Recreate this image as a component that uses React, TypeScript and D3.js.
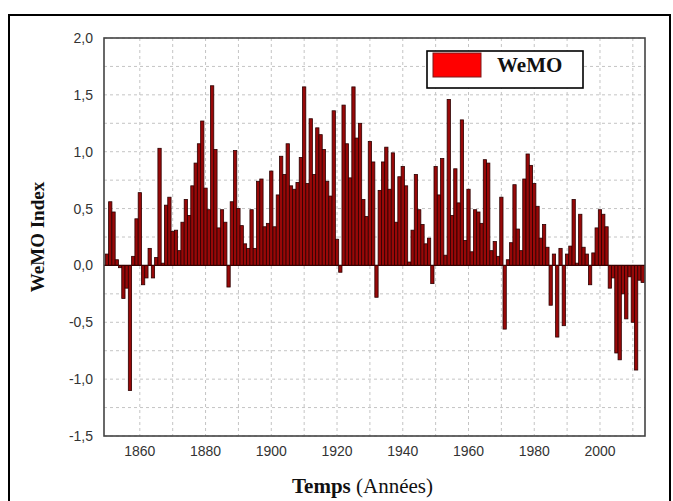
import React from "react";
import * as d3 from "d3";

// Annual WeMO index values, 1850–2013
const startYear = 1850;
const wemo: number[] = [
  // 1850–1859
  0.10, 0.56, 0.47, 0.05, -0.02, -0.29, -0.20, -1.10, 0.08, 0.41,
  // 1860–1869
  0.64, -0.17, -0.11, 0.15, -0.11, 0.07, 1.03, 0.02, 0.53, 0.60,
  // 1870–1879
  0.30, 0.31, 0.13, 0.38, 0.58, 0.44, 0.70, 0.90, 1.07, 1.27,
  // 1880–1889
  0.68, 0.49, 1.58, 1.02, 0.33, 0.49, 0.38, -0.19, 0.56, 1.01,
  // 1890–1899
  0.50, 0.35, 0.19, 0.15, 0.49, 0.15, 0.74, 0.76, 0.34, 0.37,
  // 1900–1909
  0.83, 0.34, 0.62, 0.96, 0.80, 1.07, 0.70, 0.67, 0.73, 0.95,
  // 1910–1919
  1.57, 0.72, 1.29, 0.80, 1.21, 1.15, 1.02, 0.74, 0.61, 1.36,
  // 1920–1929
  0.23, -0.06, 1.41, 1.07, 0.77, 1.57, 1.12, 1.25, 0.58, 0.43,
  // 1930–1939
  1.09, 0.91, -0.28, 0.66, 0.91, 1.04, 0.67, 0.99, 0.38, 0.78,
  // 1940–1949
  0.87, 0.70, 0.03, 0.31, 0.80, 0.49, 0.36, 0.19, 0.24, -0.16,
  // 1950–1959
  0.87, 0.62, 0.94, 0.09, 1.46, 0.44, 0.85, 0.55, 1.28, 0.22,
  // 1960–1969
  0.67, 0.12, 0.49, 0.47, 0.37, 0.93, 0.90, 0.13, 0.21, 0.08,
  // 1970–1979
  0.60, -0.56, 0.05, 0.20, 0.71, 0.32, 0.13, 0.76, 0.98, 0.88,
  // 1980–1989
  0.72, 0.52, 0.24, 0.36, 0.16, -0.35, 0.10, -0.63, 0.15, -0.53,
  // 1990–1999
  0.10, 0.17, 0.58, 0.02, 0.45, 0.16, 0.10, -0.17, 0.11, 0.33,
  // 2000–2009
  0.49, 0.45, 0.34, -0.20, -0.11, -0.77, -0.83, -0.25, -0.47, -0.10,
  // 2010–2013
  -0.50, -0.92, -0.13, -0.15,
];

const yTicks: number[] = [2.0, 1.5, 1.0, 0.5, 0.0, -0.5, -1.0, -1.5];
const xTicks: number[] = [1860, 1880, 1900, 1920, 1940, 1960, 1980, 2000];
const xGrid: number[] = d3.range(1860, 2011, 10);
const yGrid: number[] = d3.range(-1.5, 2.001, 0.25);

const seriesName = "WeMO";

const W = 673;
const H = 501;
const plot = { left: 104, right: 645, top: 38, bottom: 436 };

const fmt = (v: number) => v.toFixed(1).replace(".", ",");

export default function App() {
  const x = d3
    .scaleLinear()
    .domain([1849.1, 2013.7])
    .range([plot.left, plot.right]);
  const y = d3.scaleLinear().domain([-1.5, 2.0]).range([plot.bottom, plot.top]);

  const data = wemo.map((v, i) => ({ year: startYear + i, value: v }));
  const sans = "Arial, 'Liberation Sans', sans-serif";
  const serif = "'Times New Roman', 'Liberation Serif', serif";

  return (
    <svg
      width={W}
      height={H}
      style={{ position: "absolute", left: 0, top: 0, background: "#fff" }}
    >
      {/* outer frame */}
      <rect
        x={9}
        y={15}
        width={661}
        height={500}
        fill="#fff"
        stroke="#000"
        strokeWidth={2}
      />

      {/* plot background */}
      <rect
        x={plot.left}
        y={plot.top}
        width={plot.right - plot.left}
        height={plot.bottom - plot.top}
        fill="#fff"
      />

      {/* grid */}
      <g stroke="#c4c4c4" strokeWidth={1} strokeDasharray="3,3">
        {xGrid.map((g) => (
          <line key={"vx" + g} x1={x(g)} x2={x(g)} y1={plot.top} y2={plot.bottom} />
        ))}
        {yGrid.map((g) => (
          <line key={"hy" + g} x1={plot.left} x2={plot.right} y1={y(g)} y2={y(g)} />
        ))}
      </g>

      {/* bars */}
      <g fill="#980808" stroke="#2b0000" strokeWidth={0.8}>
        {data.map((d) => {
          const x0 = x(d.year - 0.5);
          const x1 = x(d.year + 0.5);
          const y0 = y(Math.max(0, d.value));
          const y1 = y(Math.min(0, d.value));
          return (
            <rect
              key={d.year}
              x={x0}
              y={y0}
              width={x1 - x0}
              height={Math.max(0.5, y1 - y0)}
            />
          );
        })}
      </g>

      {/* zero line */}
      <line
        x1={plot.left}
        x2={plot.right}
        y1={y(0)}
        y2={y(0)}
        stroke="#3a0000"
        strokeWidth={1.2}
      />

      {/* plot border */}
      <rect
        x={plot.left}
        y={plot.top}
        width={plot.right - plot.left}
        height={plot.bottom - plot.top}
        fill="none"
        stroke="#444"
        strokeWidth={1.6}
      />

      {/* y tick labels */}
      <g fontFamily={sans} fontSize={14} fill="#333" textAnchor="end">
        {yTicks.map((t) => (
          <text key={"yt" + t} x={93} y={y(t) + 5}>
            {fmt(t)}
          </text>
        ))}
      </g>

      {/* x tick labels */}
      <g fontFamily={sans} fontSize={14} fill="#333" textAnchor="middle">
        {xTicks.map((t) => (
          <text key={"xt" + t} x={x(t)} y={456}>
            {t}
          </text>
        ))}
      </g>

      {/* axis titles */}
      <text
        transform={`translate(44, ${(plot.top + plot.bottom) / 2}) rotate(-90)`}
        textAnchor="middle"
        fontFamily={serif}
        fontWeight="bold"
        fontSize={19}
        fill="#111"
      >
        WeMO Index
      </text>
      <text
        x={(plot.left + plot.right) / 2 - 12}
        y={493}
        textAnchor="middle"
        fontFamily={serif}
        fontSize={21}
        fill="#111"
      >
        <tspan fontWeight="bold">Temps</tspan>
        <tspan> (Années)</tspan>
      </text>

      {/* legend */}
      <g>
        <rect x={427} y={51} width={156} height={37} fill="#fff" stroke="#000" strokeWidth={1.6} />
        <rect x={433} y={53} width={48} height={24} fill="#ff0000" stroke="#7a1a1a" strokeWidth={1} />
        <text
          x={497}
          y={72}
          fontFamily={serif}
          fontWeight="bold"
          fontSize={21}
          fill="#111"
        >
          {seriesName}
        </text>
      </g>
    </svg>
  );
}
